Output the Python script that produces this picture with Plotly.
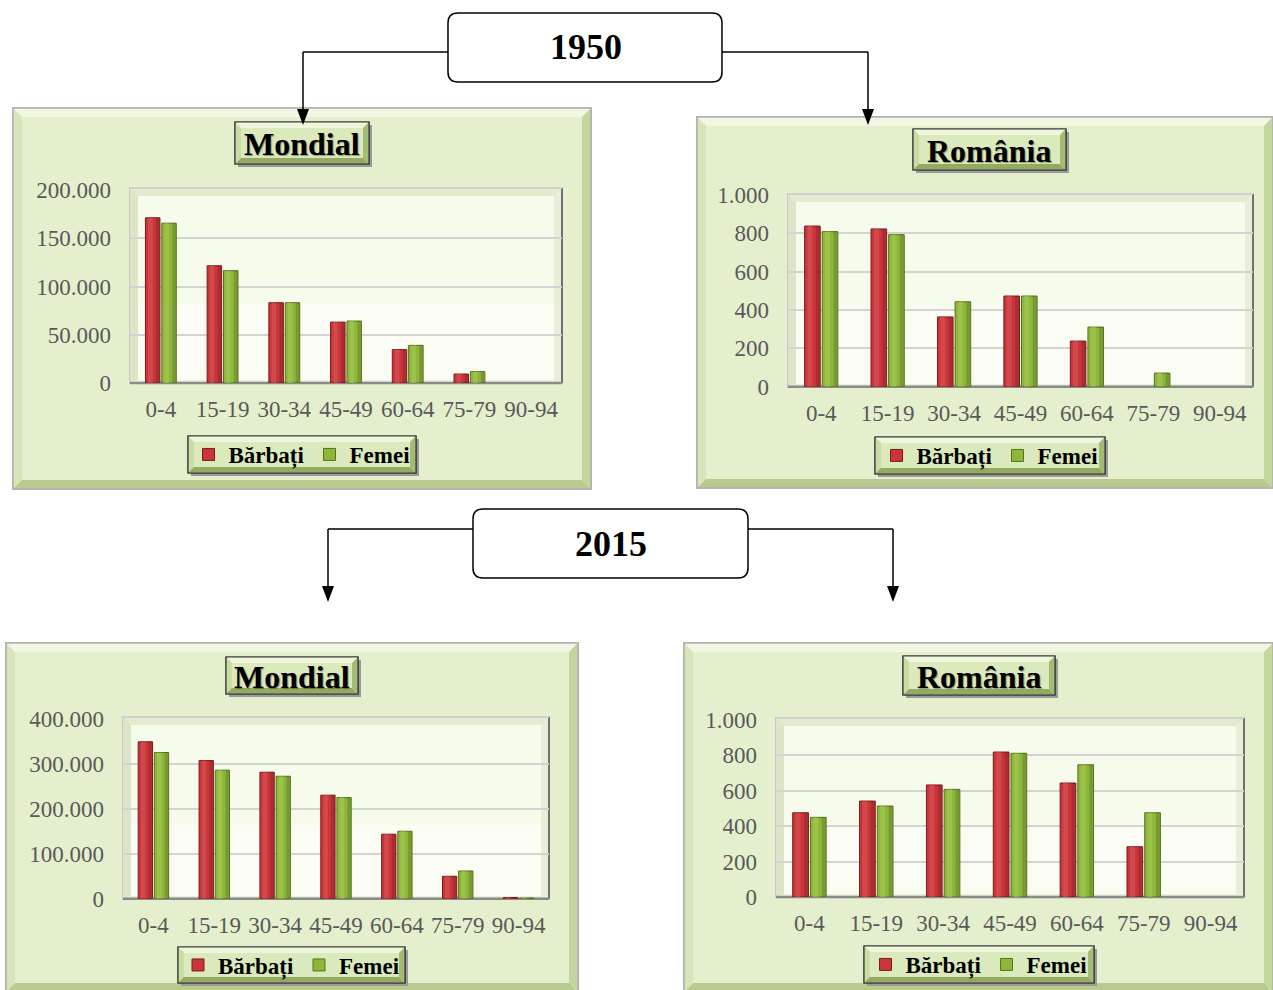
import plotly.graph_objects as go

# ---------------- data ----------------
categories = ["0-4", "15-19", "30-34", "45-49", "60-64", "75-79", "90-94"]
series_names = ["Bărbați", "Femei"]

mondial_1950_barbati = [171200, 121500, 83200, 63100, 34600, 9300, None]
mondial_1950_femei = [165600, 116400, 83200, 64200, 39000, 11800, None]
romania_1950_barbati = [838, 823, 364, 473, 238, None, None]
romania_1950_femei = [809, 793, 443, 473, 311, 71, None]
mondial_2015_barbati = [349800, 308000, 282000, 230800, 143800, 50000, 2500]
mondial_2015_femei = [326000, 286600, 273000, 225400, 150400, 61800, 1200]
romania_2015_barbati = [476, 542, 633, 819, 644, 284, None]
romania_2015_femei = [450, 514, 608, 812, 747, 476, None]

panel_titles = ["Mondial", "România", "Mondial", "România"]
year_labels = ["1950", "2015"]

# ---------------- helpers ----------------
W, H = 1273, 990
FONT = "Liberation Serif"


def px(x):
    return x / W


def py(y):
    return 1 - y / H


shapes = []
annotations = []


def rect(x0, y0, x1, y1, fill, line=None, lw=0, layer="below"):
    shapes.append(dict(type="rect", xref="paper", yref="paper",
                       x0=px(x0), x1=px(x1), y0=py(y1), y1=py(y0),
                       fillcolor=fill, layer=layer,
                       line=dict(color=line or "rgba(0,0,0,0)", width=lw)))


def poly(pts, fill, layer="below"):
    path = "M " + " L ".join(f"{px(x):.5f},{py(y):.5f}" for x, y in pts) + " Z"
    shapes.append(dict(type="path", xref="paper", yref="paper", path=path,
                       fillcolor=fill, line=dict(width=0), layer=layer))


def line(x0, y0, x1, y1, color, width, layer="below"):
    shapes.append(dict(type="line", xref="paper", yref="paper",
                       x0=px(x0), x1=px(x1), y0=py(y0), y1=py(y1),
                       line=dict(color=color, width=width), layer=layer))


def bevel(x0, y0, x1, y1, b, face, top, left, bottom, right, border, bw=1, inner=None):
    rect(x0, y0, x1, y1, face, border, bw)
    poly([(x0, y0), (x1, y0), (x1 - b, y0 + b), (x0 + b, y0 + b)], top)
    poly([(x0, y0), (x0 + b, y0 + b), (x0 + b, y1 - b), (x0, y1)], left)
    poly([(x0, y1), (x0 + b, y1 - b), (x1 - b, y1 - b), (x1, y1)], bottom)
    poly([(x1, y0), (x1, y1), (x1 - b, y1 - b), (x1 - b, y0 + b)], right)
    rect(x0 + b, y0 + b, x1 - b, y1 - b, inner or face)
    if border:
        rect(x0, y0, x1, y1, "rgba(0,0,0,0)", border, bw)


def panel_frame(x0, y0, x1, y1):
    bevel(x0, y0, x1, y1, 9, "#e4efcd", "#f1f7e3", "#d7e6ba", "#b7cb8f", "#c3d69e", "#b0b0b0", 1.5)


def small_box(x0, y0, x1, y1):
    rect(x0 + 3, y0 + 3, x1 + 3, y1 + 3, "#9a9a9a")
    bevel(x0, y0, x1, y1, 6, "#d6e7b4", "#eef6dc", "#c9dca3", "#93aa62", "#a4bb74", "#3a3a3a", 1.2,
          inner="#dbeabd")


def wall(x0, y0, x1, y1):
    rect(x0, y0, x1, y1, "#e9f1d9", "#c8c8c8", 2)
    d = 8
    poly([(x0, y0), (x1, y0), (x1 - d, y0 + d), (x0 + d, y0 + d)], "#e2ebcd")
    poly([(x0, y0), (x0 + d, y0 + d), (x0 + d, y1 - 3), (x0, y1)], "#dce5c8")
    poly([(x1, y0), (x1, y1), (x1 - d, y1 - 3), (x1 - d, y0 + d)], "#e8efd8")
    rect(x0 + d, y0 + d, x1 - d, y1 - 3, "#f7fbec")
    rect(x0 + d, y0 + d + (y1 - y0) * 0.55, x1 - d, y1 - 3, "#fbfdf4")
    line(x1, y0, x1, y1, "#707070", 2)
    line(x0, y1, x1, y1, "#8a8a8a", 2.5)
    line(x0, y0, x1, y0, "#d0d0d0", 2)


def round_box(x0, y0, x1, y1, r=10):
    p = [f"M {px(x0 + r):.5f},{py(y0):.5f}",
         f"L {px(x1 - r):.5f},{py(y0):.5f}",
         f"Q {px(x1):.5f},{py(y0):.5f} {px(x1):.5f},{py(y0 + r):.5f}",
         f"L {px(x1):.5f},{py(y1 - r):.5f}",
         f"Q {px(x1):.5f},{py(y1):.5f} {px(x1 - r):.5f},{py(y1):.5f}",
         f"L {px(x0 + r):.5f},{py(y1):.5f}",
         f"Q {px(x0):.5f},{py(y1):.5f} {px(x0):.5f},{py(y1 - r):.5f}",
         f"L {px(x0):.5f},{py(y0 + r):.5f}",
         f"Q {px(x0):.5f},{py(y0):.5f} {px(x0 + r):.5f},{py(y0):.5f} Z"]
    shapes.append(dict(type="path", xref="paper", yref="paper", path=" ".join(p),
                       fillcolor="white", line=dict(color="black", width=1.5), layer="above"))


def arrow_down(x, y_from, y_tip):
    line(x, y_from, x, y_tip - 14, "black", 1.5, layer="above")
    poly([(x - 6, y_tip - 16), (x + 6, y_tip - 16), (x, y_tip)], "black", layer="above")


def text(x, y, s, size, color="black", weight="bold", shadow="none"):
    annotations.append(dict(x=px(x), y=py(y), xref="paper", yref="paper", text=s,
                            showarrow=False, xanchor="center", yanchor="middle",
                            font=dict(family=FONT, size=size, color=color, weight=weight,
                                      shadow=shadow)))


# ---------------- panels ----------------
panels = [
    dict(frame=(13, 108, 591, 489), title=(235, 122, 369, 164), legend=(188, 436, 416, 473),
         plot=(130, 190, 562, 383), wall_top=188, yrange=200000, dtick=50000,
         m=mondial_1950_barbati, f=mondial_1950_femei),
    dict(frame=(697, 117, 1273, 488), title=(913, 129, 1066, 170), legend=(875, 437, 1105, 474),
         plot=(788, 195, 1253, 386.7), wall_top=194, yrange=1000, dtick=200,
         m=romania_1950_barbati, f=romania_1950_femei),
    dict(frame=(6, 643, 578, 992), title=(226, 657, 358, 694), legend=(178, 947, 405, 983),
         plot=(123, 719.3, 549, 898.7), wall_top=717, yrange=400000, dtick=100000,
         m=mondial_2015_barbati, f=mondial_2015_femei),
    dict(frame=(684, 643, 1273, 992), title=(903, 656, 1055, 695), legend=(864, 946, 1094, 983),
         plot=(776, 720, 1244, 897), wall_top=718, yrange=1000, dtick=200,
         m=romania_2015_barbati, f=romania_2015_femei),
]

BW = 0.235   # bar width in category units
GAP = 0.03   # gap between the two bars of a group

fig = go.Figure()
layout_axes = {}

for i, p in enumerate(panels):
    k = "" if i == 0 else str(i + 1)
    panel_frame(*p["frame"])
    x0, y0, x1, y1 = p["plot"]
    wall(x0, p["wall_top"], x1, y1)
    small_box(*p["title"])
    tx0, ty0, tx1, ty1 = p["title"]
    text((tx0 + tx1) / 2, (ty0 + ty1) / 2 + 1, panel_titles[i], 32,
         shadow="1px 1px 1px rgba(0,0,0,0.35)")
    small_box(*p["legend"])
    lx0, ly0, lx1, ly1 = p["legend"]

    leg = "legend" if i == 0 else f"legend{i + 1}"
    specs = [(series_names[0], p["m"], "#c8363a", "#7c1a1c", "#dc5a5a", -BW - GAP / 2),
             (series_names[1], p["f"], "#8db63b", "#56731c", "#a9cd55", GAP / 2)]
    for name, vals, col, edge, light, off in specs:
        fig.add_trace(go.Bar(x=categories, y=vals, name=name, offset=off, width=BW,
                             marker=dict(color=col, line=dict(color=edge, width=1)),
                             xaxis="x" + k, yaxis="y" + k, legend=leg, showlegend=True))
        # cylinder shading: light band on the left-centre, darker band on the right
        fig.add_trace(go.Bar(x=categories, y=vals, offset=off + BW * 0.18, width=BW * 0.32,
                             marker=dict(color=light, line=dict(width=0), opacity=0.55),
                             xaxis="x" + k, yaxis="y" + k, showlegend=False, hoverinfo="skip"))
        fig.add_trace(go.Bar(x=categories, y=vals, offset=off + BW * 0.72, width=BW * 0.24,
                             marker=dict(color="black", line=dict(width=0), opacity=0.15),
                             xaxis="x" + k, yaxis="y" + k, showlegend=False, hoverinfo="skip"))

    layout_axes["xaxis" + k] = dict(domain=[px(x0), px(x1)], anchor="y" + k, type="category",
                                    showgrid=False, zeroline=False, showline=False,
                                    ticks="", ticklabelstandoff=10, fixedrange=True,
                                    tickfont=dict(family=FONT, size=23, color="#595959"))
    layout_axes["yaxis" + k] = dict(domain=[py(y1), py(y0)], anchor="x" + k,
                                    range=[0, p["yrange"]], dtick=p["dtick"], tick0=0,
                                    tickformat=",d", showgrid=True, gridcolor="#d3d3d3",
                                    gridwidth=2, zeroline=False, showline=False, ticks="",
                                    ticklabelstandoff=18, fixedrange=True,
                                    tickfont=dict(family=FONT, size=23, color="#595959"))
    layout_axes[leg] = dict(x=px((lx0 + lx1) / 2), y=py((ly0 + ly1) / 2), xanchor="center",
                            yanchor="middle", orientation="h", bgcolor="rgba(0,0,0,0)",
                            borderwidth=0, itemwidth=30, itemclick=False,
                            font=dict(family=FONT, size=23, color="black", weight="bold"),
                            tracegroupgap=0)

# ---------------- year boxes & arrows ----------------
line(448, 52, 303, 52, "black", 1.5, layer="above")
arrow_down(303, 52, 125)
line(722, 52, 868, 52, "black", 1.5, layer="above")
arrow_down(868, 52, 125)
round_box(448, 13, 722, 82)
text(586, 47, year_labels[0], 36)

line(473, 529, 328, 529, "black", 1.5, layer="above")
arrow_down(328, 529, 602)
line(748, 529, 893, 529, "black", 1.5, layer="above")
arrow_down(893, 529, 602)
round_box(473, 509, 748, 578)
text(611, 544, year_labels[1], 36)

fig.update_layout(
    width=W, height=H, margin=dict(l=0, r=0, t=0, b=0, pad=0, autoexpand=False),
    paper_bgcolor="white", plot_bgcolor="rgba(0,0,0,0)",
    separators=",.", barmode="overlay",
    shapes=shapes, annotations=annotations, showlegend=True,
    **layout_axes,
)

fig.write_html("out.html")
